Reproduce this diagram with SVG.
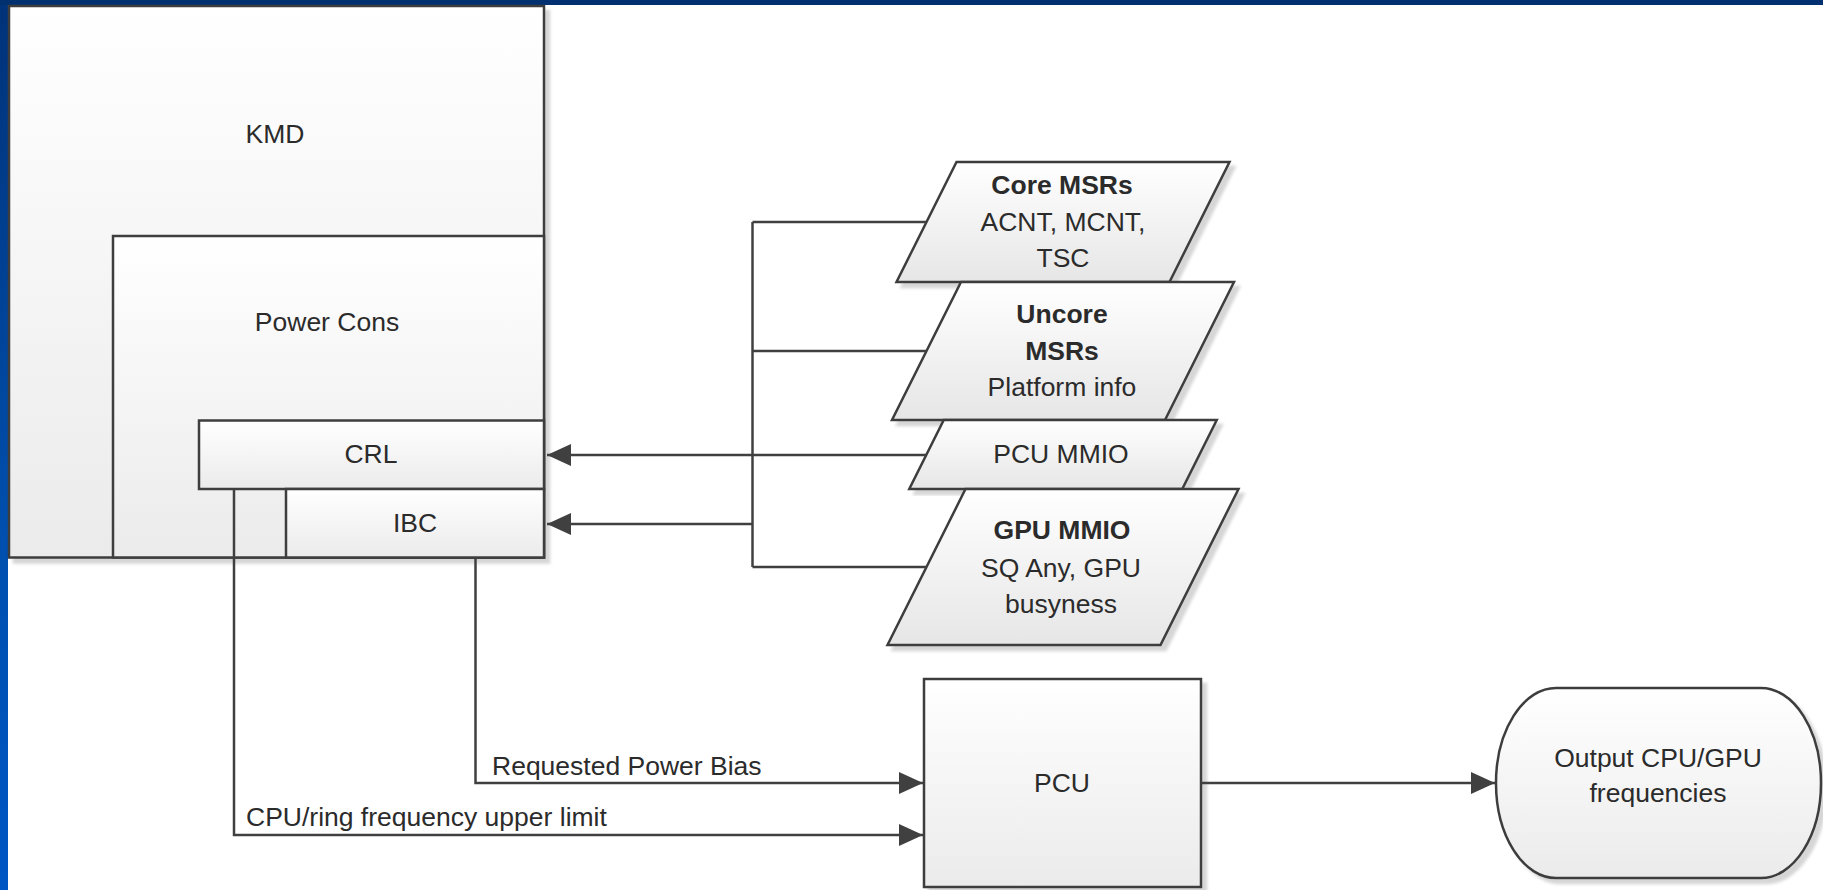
<svg xmlns="http://www.w3.org/2000/svg" width="1823" height="890" viewBox="0 0 1823 890">
<defs>
<linearGradient id="bandGrad" x1="0" y1="0" x2="0" y2="1">
<stop offset="0" stop-color="#003278"/>
<stop offset="0.6" stop-color="#004fae"/>
<stop offset="1" stop-color="#0056c4"/>
</linearGradient>
<linearGradient id="fillGrad" x1="0" y1="0" x2="0" y2="1">
<stop offset="0" stop-color="#ffffff"/>
<stop offset="1" stop-color="#ebebeb"/>
</linearGradient>
<linearGradient id="fillGradP" x1="0" y1="0" x2="0" y2="1">
<stop offset="0" stop-color="#ffffff"/>
<stop offset="1" stop-color="#e6e6e6"/>
</linearGradient>
<filter id="shadow" x="-5%" y="-5%" width="115%" height="115%">
<feDropShadow dx="5" dy="5" stdDeviation="1.5" flood-color="#000000" flood-opacity="0.16"/>
</filter>
<marker id="arrow" markerUnits="userSpaceOnUse" markerWidth="25" markerHeight="22" refX="24" refY="11" orient="auto">
<path d="M0,0 L24,11 L0,22 Z" fill="#404040"/>
</marker>
</defs>
<style>
.box{fill:url(#fillGrad);stroke:#3e3e3e;stroke-width:2.5}
.para{fill:url(#fillGradP);stroke:#3e3e3e;stroke-width:2.5}
.conn{fill:none;stroke:#404040;stroke-width:2.5}
text{font-family:"Liberation Sans",Arial,sans-serif;font-size:26.5px;fill:#2b2b2b}
.c{text-anchor:middle}
.b{font-weight:bold}
</style>
<rect x="0" y="0" width="1823" height="890" fill="#ffffff"/>
<rect x="0" y="0" width="8" height="890" fill="url(#bandGrad)"/>
<rect x="0" y="0" width="1823" height="5" fill="#00306f"/>

<g id="kmd">
<rect class="box" x="9" y="6" width="535" height="551.5" filter="url(#shadow)"/>
<text class="c" x="275" y="143">KMD</text>
</g>
<g id="power-cons">
<rect class="box" x="113" y="236" width="431" height="321.5"/>
<text class="c" x="327" y="331">Power Cons</text>
</g>
<g id="crl">
<rect class="box" x="199" y="420.5" width="345" height="68.5"/>
<text class="c" x="371" y="463">CRL</text>
</g>
<g id="ibc">
<rect class="box" x="286" y="489" width="258" height="68.5"/>
<text class="c" x="415" y="532">IBC</text>
</g>

<g id="core-msrs">
<polygon class="para" points="956.5,162 1229.5,162 1169.5,282 896.5,282" filter="url(#shadow)"/>
<text class="c b" x="1062" y="194">Core MSRs</text>
<text class="c" x="1063" y="231">ACNT, MCNT,</text>
<text class="c" x="1063" y="267">TSC</text>
</g>
<g id="uncore-msrs">
<polygon class="para" points="961,282 1234,282 1165,420 892,420" filter="url(#shadow)"/>
<text class="c b" x="1062" y="323">Uncore</text>
<text class="c b" x="1062" y="360">MSRs</text>
<text class="c" x="1062" y="396">Platform info</text>
</g>
<g id="pcu-mmio">
<polygon class="para" points="943.75,420 1216.75,420 1182.25,489 909.25,489" filter="url(#shadow)"/>
<text class="c" x="1061" y="463">PCU MMIO</text>
</g>
<g id="gpu-mmio">
<polygon class="para" points="965.5,489 1238.5,489 1160.5,645 887.5,645" filter="url(#shadow)"/>
<text class="c b" x="1062" y="539">GPU MMIO</text>
<text class="c" x="1061" y="577">SQ Any, GPU</text>
<text class="c" x="1061" y="613">busyness</text>
</g>

<g id="pcu">
<rect class="box" x="924" y="679" width="277" height="208" filter="url(#shadow)"/>
<text class="c" x="1062" y="792">PCU</text>
</g>
<g id="output">
<rect class="box" x="1496" y="688" width="325" height="190" rx="60" ry="95" filter="url(#shadow)"/>
<text class="c" x="1658" y="767">Output CPU/GPU</text>
<text class="c" x="1658" y="802">frequencies</text>
</g>

<g id="connectors">
<path class="conn" d="M926.5,455 H547" marker-end="url(#arrow)"/>
<path class="conn" d="M752.5,222 V567"/>
<path class="conn" d="M926.5,222 H752.5"/>
<path class="conn" d="M926.5,351 H752.5"/>
<path class="conn" d="M926.5,567 H752.5"/>
<path class="conn" d="M752.5,524 H547" marker-end="url(#arrow)"/>
<path class="conn" d="M475.5,558 V783 H923" marker-end="url(#arrow)"/>
<path class="conn" d="M234,489 V835 H923" marker-end="url(#arrow)"/>
<path class="conn" d="M1201,783 H1495" marker-end="url(#arrow)"/>
<text x="492" y="775">Requested Power Bias</text>
<text x="246" y="826">CPU/ring frequency upper limit</text>
</g>
</svg>
